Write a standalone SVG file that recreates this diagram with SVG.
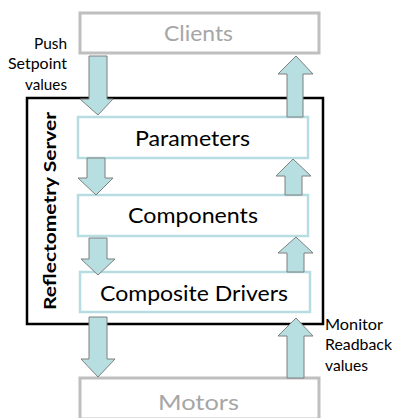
<svg xmlns="http://www.w3.org/2000/svg" width="393" height="418" viewBox="0 0 393 418">
<style>
.outer{fill:#fff;stroke:#bfbfbf;stroke-width:3}
.inner{fill:#fff;stroke:#b7dde2;stroke-width:2.5}
.server{fill:#fff;stroke:#000;stroke-width:2.5}
.arrow{fill:#b7dfe2;stroke:#7f7f7f;stroke-width:1}
.t{font-family:Lato,"Open Sans",sans-serif;text-anchor:middle}
.grey{fill:#a6a6a6;font-size:22px}
.dark{fill:#000;font-size:21px}
.note{font-family:Lato,"Open Sans",sans-serif;font-size:15px;fill:#000}
</style>
<g id="server">
<rect class="server" x="27" y="98" width="296" height="226"/>
<text class="t" style="font-weight:bold;font-size:17px" transform="translate(56,211) rotate(-90)" textLength="198" lengthAdjust="spacingAndGlyphs">Reflectometry Server</text>
</g>
<g id="clients">
<rect class="outer" x="80" y="13" width="239" height="40"/>
<text class="t grey" x="198.5" y="41" textLength="69" lengthAdjust="spacingAndGlyphs">Clients</text>
</g>
<g id="motors">
<rect class="outer" x="80" y="378" width="239" height="41"/>
<text class="t grey" x="198.5" y="410" textLength="81" lengthAdjust="spacingAndGlyphs">Motors</text>
</g>
<g id="parameters">
<rect class="inner" x="78" y="117" width="230" height="41"/>
<text class="t dark" x="192.5" y="146" textLength="115" lengthAdjust="spacingAndGlyphs">Parameters</text>
</g>
<g id="components">
<rect class="inner" x="78" y="195" width="230" height="41"/>
<text class="t dark" x="193" y="223" textLength="130" lengthAdjust="spacingAndGlyphs">Components</text>
</g>
<g id="drivers">
<rect class="inner" x="80" y="272" width="230" height="40"/>
<text class="t dark" x="194" y="301" textLength="188" lengthAdjust="spacingAndGlyphs">Composite Drivers</text>
</g>
<g id="connectors">
<path class="arrow" d="M89,56 H107 V99 H113 L98,115 L80,99 H89 Z"/>
<path class="arrow" d="M287,117 V74 H278 L296,56 L313,74 H303 V117 Z"/>
<path class="arrow" d="M87,158 H105 V178 H113 L96,195 L78,178 H87 Z"/>
<path class="arrow" d="M285,195 V176 H276 L293,159 L311,176 H302 V195 Z"/>
<path class="arrow" d="M89,238 H107 V259 H115 L98,275 L81,259 H89 Z"/>
<path class="arrow" d="M287,272 V253 H278 L296,237 L313,253 H304 V272 Z"/>
<path class="arrow" d="M89,317 H107 V359 H115 L98,377 L81,359 H89 Z"/>
<path class="arrow" d="M287,378 V336 H278 L296,318 L313,336 H304 V378 Z"/>
</g>
<g id="labels">
<text class="note" text-anchor="end"><tspan x="67" y="49" textLength="33" lengthAdjust="spacingAndGlyphs">Push</tspan><tspan x="67" y="69" textLength="59" lengthAdjust="spacingAndGlyphs">Setpoint</tspan><tspan x="67" y="90" textLength="42" lengthAdjust="spacingAndGlyphs">values</tspan></text>
<text class="note"><tspan x="325" y="330" textLength="58" lengthAdjust="spacingAndGlyphs">Monitor</tspan><tspan x="325" y="350" textLength="67" lengthAdjust="spacingAndGlyphs">Readback</tspan><tspan x="325" y="371" textLength="43" lengthAdjust="spacingAndGlyphs">values</tspan></text>
</g>
</svg>
